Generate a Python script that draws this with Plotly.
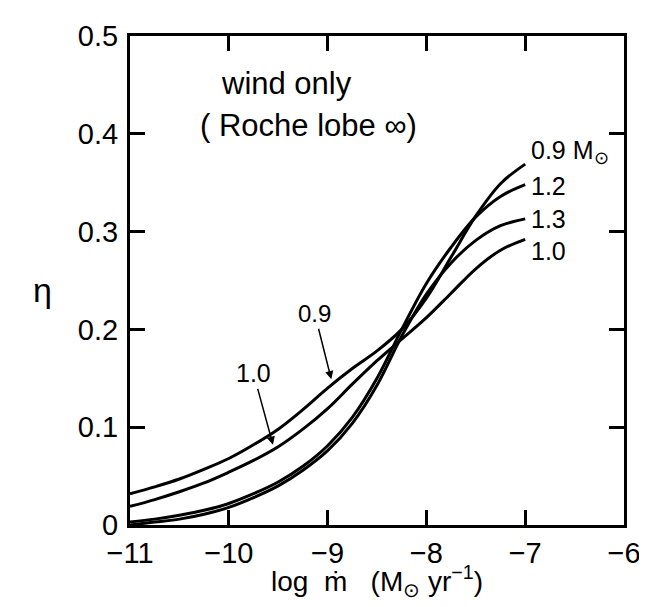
import plotly.graph_objects as go

# log mdot (Msun/yr)
log_mdot = [-11.0, -10.75, -10.5, -10.25, -10.0, -9.75, -9.5, -9.25, -9.0,
            -8.75, -8.5, -8.25, -8.0, -7.75, -7.5, -7.25, -7.0]

# efficiency eta for each white-dwarf mass (Msun)
eta_09 = [0.032, 0.039, 0.047, 0.057, 0.068, 0.082, 0.098, 0.118, 0.140,
          0.160, 0.178, 0.200, 0.232, 0.274, 0.316, 0.349, 0.369]
eta_10 = [0.019, 0.026, 0.034, 0.043, 0.054, 0.066, 0.080, 0.098, 0.119,
          0.144, 0.168, 0.190, 0.212, 0.237, 0.262, 0.281, 0.292]
eta_12 = [0.003, 0.006, 0.010, 0.015, 0.022, 0.032, 0.044, 0.060, 0.081,
          0.110, 0.150, 0.200, 0.247, 0.284, 0.315, 0.336, 0.348]
eta_13 = [0.000, 0.003, 0.006, 0.011, 0.018, 0.028, 0.040, 0.056, 0.076,
          0.104, 0.143, 0.193, 0.236, 0.268, 0.291, 0.306, 0.313]

series = [("0.9", eta_09), ("1.0", eta_10), ("1.2", eta_12), ("1.3", eta_13)]

x_ticks = [-11, -10, -9, -8, -7, -6]
x_tick_text = ["−11", "−10", "−9", "−8", "−7", "−6"]
y_ticks = [0, 0.1, 0.2, 0.3, 0.4, 0.5]
y_tick_text = ["0", "0.1", "0.2", "0.3", "0.4", "0.5"]

FONT = "Liberation Sans"

fig = go.Figure()
for name, ys in series:
    fig.add_trace(go.Scatter(x=log_mdot, y=ys, mode="lines", name=name,
                             line=dict(color="black", width=3, shape="spline", smoothing=1.0),
                             showlegend=False, hoverinfo="x+y"))

# end labels
end_labels = [("0.9 M<sub>⊙</sub>", 0.381), ("1.2", 0.347), ("1.3", 0.313), ("1.0", 0.280)]
for txt, yv in end_labels:
    fig.add_annotation(x=-6.96, y=yv, text=txt, showarrow=False, xanchor="left",
                       font=dict(family=FONT, size=25, color="black"))

# arrowed labels
fig.add_annotation(x=-8.96, y=0.148, ax=-9.13, ay=0.216, axref="x", ayref="y",
                   text="0.9", showarrow=True, arrowhead=2, arrowsize=1.1, arrowwidth=1.5,
                   arrowcolor="black", standoff=1,
                   font=dict(family=FONT, size=24, color="black"))
fig.add_annotation(x=-9.55, y=0.081, ax=-9.75, ay=0.155, axref="x", ayref="y",
                   text="1.0", showarrow=True, arrowhead=2, arrowsize=1.1, arrowwidth=1.5,
                   arrowcolor="black", standoff=1,
                   font=dict(family=FONT, size=25, color="black"))

fig.add_annotation(x=-9.42, y=0.451, text="wind only", showarrow=False,
                   font=dict(family=FONT, size=31, color="black"))
fig.add_annotation(x=-9.19, y=0.408, text="( Roche lobe ∞)", showarrow=False,
                   font=dict(family=FONT, size=31, color="black"))

# axis titles
fig.add_annotation(xref="paper", yref="paper", x=0.5, y=-0.115, yanchor="middle",
                   text="log  ṁ   (M<sub>⊙</sub> yr<sup>−1</sup>)", showarrow=False,
                   font=dict(family=FONT, size=28, color="black"))
fig.add_annotation(xref="paper", yref="paper", x=-0.20, y=0.48, yanchor="middle",
                   text="η", showarrow=False,
                   font=dict(family=FONT, size=34, color="black"))

axis_common = dict(showline=True, linecolor="black", linewidth=3, mirror="ticks",
                   ticks="inside", ticklen=15, tickwidth=2.5, tickcolor="black",
                   showgrid=False, zeroline=False,
                   tickfont=dict(family=FONT, size=29, color="black"))

fig.update_xaxes(range=[-11, -6], tickvals=x_ticks, ticktext=x_tick_text,
                 ticklabelstandoff=0, **axis_common)
fig.update_yaxes(range=[0, 0.5], tickvals=y_ticks, ticktext=y_tick_text,
                 ticklabelstandoff=3, **axis_common)

fig.update_layout(width=647, height=607, margin=dict(l=122, r=31, t=21, b=90),
                  paper_bgcolor="white", plot_bgcolor="white")

fig.write_html("out.html")
